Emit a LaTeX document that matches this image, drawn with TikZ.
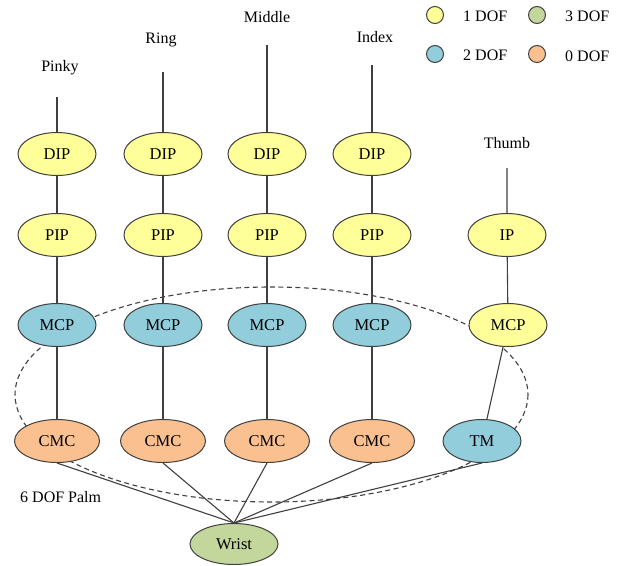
\documentclass[tikz,border=0pt]{standalone}
\usepackage{fontspec}
\setmainfont{Liberation Serif}
\definecolor{cyel}{HTML}{FFFF99}
\definecolor{cblu}{HTML}{92CDDC}
\definecolor{cora}{HTML}{FAC090}
\definecolor{cgrn}{HTML}{C3D69B}
\definecolor{cedge}{HTML}{404040}
\tikzset{
  joint/.style={ellipse, draw=cedge, line width=1pt, minimum width=78pt, minimum height=43pt, inner sep=0pt, font=\fontsize{16.5}{18}\selectfont},
  y1/.style={joint, fill=cyel},
  y2/.style={joint, fill=cblu},
  y0/.style={joint, fill=cora},
  y3/.style={joint, fill=cgrn},
  lbl/.style={font=\fontsize{16}{18}\selectfont, inner sep=0pt},
  bone/.style={draw=cedge, line width=1.1pt},
  legc/.style={circle, draw=cedge, line width=1pt, minimum size=17pt, inner sep=0pt},
}
\usetikzlibrary{shapes.geometric}
\begin{document}
\begin{tikzpicture}[x=1pt,y=-1pt]
\useasboundingbox (0,0) rectangle (623,565);
% palm dashed ellipse
\draw[draw=cedge, line width=1.1pt, dash pattern=on 5pt off 3.5pt] (271.5,394.5) ellipse [x radius=256.5, y radius=107.5];
% labels
\node[lbl] (lpinky) at (60,68) {Pinky};
\node[lbl] (lring) at (161,40) {Ring};
\node[lbl] (lmiddle) at (267,17) {Middle};
\node[lbl] (lindex) at (375,37) {Index};
\node[lbl] (lthumb) at (507,143) {Thumb};
\node[lbl, anchor=west] (palm) at (20,497) {6 DOF Palm};
\coordinate (tpinky) at (57,97);
\coordinate (tring) at (163,72);
\coordinate (tmiddle) at (267,45);
\coordinate (tindex) at (372,65);
\coordinate (tthumb) at (507,168);
% nodes
\node[y1] (dip1) at (57,154) {DIP};
\node[y1] (dip2) at (163,154) {DIP};
\node[y1] (dip3) at (267,154) {DIP};
\node[y1] (dip4) at (372,154) {DIP};
\node[y1] (pip1) at (57,235) {PIP};
\node[y1] (pip2) at (163,235) {PIP};
\node[y1] (pip3) at (267,235) {PIP};
\node[y1] (pip4) at (372,235) {PIP};
\node[y1] (ip) at (507,235) {IP};
\node[y2] (mcp1) at (57,325) {MCP};
\node[y2] (mcp2) at (163,325) {MCP};
\node[y2] (mcp3) at (267,325) {MCP};
\node[y2] (mcp4) at (372,325) {MCP};
\node[y1] (mcp5) at (508,325) {MCP};
\node[y0, minimum width=85pt] (cmc1) at (57,441) {CMC};
\node[y0, minimum width=85pt] (cmc2) at (163,441) {CMC};
\node[y0, minimum width=85pt] (cmc3) at (267,441) {CMC};
\node[y0, minimum width=85pt] (cmc4) at (372,441) {CMC};
\node[y2] (tm) at (482,441) {TM};
\node[y3, minimum width=88pt, minimum height=41pt] (wrist) at (234,544) {Wrist};
% edges
\foreach \t/\a/\b/\c/\d in {tpinky/dip1/pip1/mcp1/cmc1, tring/dip2/pip2/mcp2/cmc2, tmiddle/dip3/pip3/mcp3/cmc3, tindex/dip4/pip4/mcp4/cmc4}{
  \draw[bone] (\t) -- (\a) -- (\b) -- (\c) -- (\d);
  \draw[bone] (\d.south) -- (wrist.north);
}
\draw[bone] (tthumb) -- (ip) -- (mcp5) -- (tm);
\draw[bone] (tm.south) -- (wrist.north);
% legend
\node[legc, fill=cyel] (lg1) at (435,15) {};
\node[lbl, anchor=west] (lt1) at (463,16) {1 DOF};
\node[legc, fill=cgrn] (lg3) at (537,15) {};
\node[lbl, anchor=west] (lt3) at (565,16) {3 DOF};
\node[legc, fill=cblu] (lg2) at (435,54) {};
\node[lbl, anchor=west] (lt2) at (463,55) {2 DOF};
\node[legc, fill=cora] (lg0) at (537,54) {};
\node[lbl, anchor=west] (lt0) at (565,56) {0 DOF};
\end{tikzpicture}
\end{document}
